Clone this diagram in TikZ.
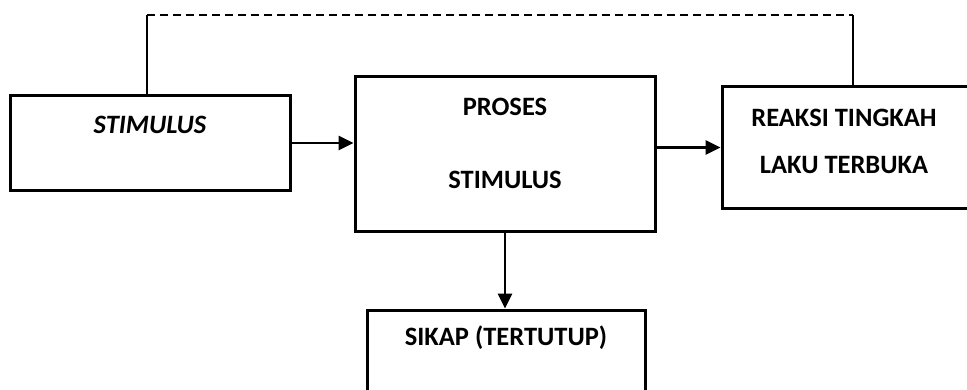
\documentclass[tikz,border=0pt]{standalone}
\usepackage{fontspec}
\setmainfont{Carlito}
\usetikzlibrary{arrows.meta}
\begin{document}
\begin{tikzpicture}[x=1pt,y=1pt,
  box/.style={draw,line width=3pt,minimum width=#1,inner sep=0pt},
  lbl/.style={font=\bfseries\fontsize{26.5}{30}\selectfont,inner sep=0pt},
  conn/.style={line width=2.8pt,-{Triangle[length=15pt,width=14pt]}},
  fb/.style={line width=2.8pt}]
\useasboundingbox (0,0) rectangle (967,389);
\clip (0,0) rectangle (967,389);
\fill[white] (0,0) rectangle (967,389);
\node[box=280pt,minimum height=94pt] (stim) at (150,246) {};
\node[box=300pt,minimum height=154pt] (proses) at (505,235) {};
\node[box=280pt,minimum height=121pt] (reaksi) at (862,241.5) {};
\node[box=278pt,minimum height=110pt] (sikap) at (506,24) {};
\node[lbl,font=\bfseries\itshape\fontsize{26.5}{30}\selectfont] (t1) at (150,264) {STIMULUS};
\node[lbl] (t2) at (505,282) {PROSES};
\node[lbl] (t3) at (505,209) {STIMULUS};
\node[lbl] (t4) at (844,271) {REAKSI TINGKAH};
\node[lbl] (t5) at (844,224) {LAKU TERBUKA};
\node[lbl] (t6) at (506,51) {SIKAP (TERTUTUP)};
\draw[conn] (stim.east) -- (stim.east -| proses.west);
\draw[conn] (proses.east |- reaksi.west) -- (reaksi.west);
\draw[conn] (proses.south) -- (proses.south |- sikap.north);
\coordinate (c1) at (147,374);
\coordinate (c2) at (853,374);
\draw[fb] (stim.north -| c1) -- (c1);
\draw[fb,dash pattern=on 8pt off 5pt] (c1) -- (c2);
\draw[fb] (c2) -- (reaksi.north -| c2);
\end{tikzpicture}
\end{document}
